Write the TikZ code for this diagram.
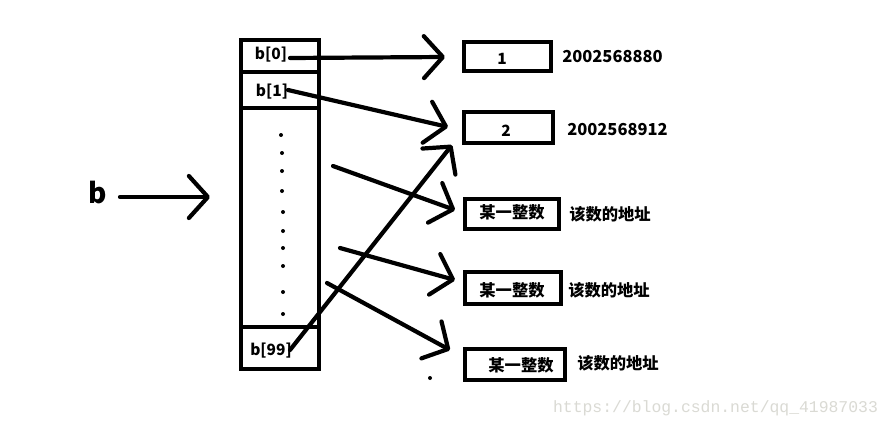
\documentclass[tikz,border=0pt]{standalone}
\usepackage{fontspec}
\setmainfont{Noto Sans CJK SC}
\newfontfamily\wmfont{Liberation Mono}
\usetikzlibrary{arrows.meta}
\definecolor{wmgray}{RGB}{218,218,212}
\tikzset{
  heavy/.style={line width=4.2pt},
  cellbox/.style={draw, line width=4.2pt, inner sep=0pt},
  ptr/.style={line width=4.2pt, line cap=round, -{Straight Barb[length=19pt,width=42pt,round]}},
  txt/.style={inner sep=0pt, font=\bfseries\fontsize{15.5}{16}\selectfont},
  num/.style={inner sep=0pt, font=\bfseries\fontsize{16.5}{17}\selectfont},
  cn/.style={inner sep=0pt, font=\bfseries\fontsize{16.3}{17}\selectfont},
  dotmark/.style={fill=black, circle, inner sep=0pt, minimum size=4pt},
}
\begin{document}
\begin{tikzpicture}[x=1pt,y=-1pt]
\useasboundingbox[fill=white] (0,0) rectangle (890,428);
% array column
\draw[heavy] (241,40) rectangle (319,369);
\draw[heavy] (241,72) -- (319,72);
\draw[heavy] (241,108) -- (319,108);
\draw[heavy] (241,327) -- (319,327);
\node[txt] (b0) at (271,55) {b[0]};
\node[txt] (b1) at (272,92) {b[1]};
\node[txt] (b99) at (271,351) {b[99]};
% dots
\foreach \x/\y [count=\i] in {281/135,282/153,282/171,282/191,283/212,283/231,283/248,283/266,283/292,283/314,430/378}
  \node[dotmark] (d\i) at (\x,\y) {};
% target boxes
\node[cellbox, minimum width=87pt, minimum height=29pt] (box1) at (507.5,56.5) {};
\node[cellbox, minimum width=89pt, minimum height=31pt] (box2) at (508.5,127.5) {};
\node[cellbox, minimum width=94pt, minimum height=30pt] (box3) at (512,214) {};
\node[cellbox, minimum width=96pt, minimum height=32pt] (box4) at (513,288) {};
\node[cellbox, minimum width=100pt, minimum height=31pt] (box5) at (515,364.5) {};
\node[txt] (v1) at (502,59) {1};
\node[txt] (v2) at (506,131) {2};
\node[cn] (v3) at (512,212) {某一整数};
\node[cn] (v4) at (512,290) {某一整数};
\node[cn] (v5) at (521,365) {某一整数};
\node[num] (a1) at (612.5,57) {2002568880};
\node[num] (a2) at (617.5,130) {2002568912};
\node[cn] (a3) at (610,214) {该数的地址};
\node[cn] (a4) at (609,290) {该数的地址};
\node[cn] (a5) at (618,363) {该数的地址};
% b pointer
\node[inner sep=0pt, font=\bfseries\fontsize{28}{30}\selectfont] (b) at (97.5,193) {b};
\coordinate (bs) at (120,197);
\coordinate (bt) at (210,197);
\draw[ptr] (bs) -- (bt);
% pointer arrows
\coordinate (s1) at (290,58);  \coordinate (t1) at (445,57);
\coordinate (s2) at (288,90);  \coordinate (t2) at (448,127);
\coordinate (s3) at (290,350); \coordinate (t3) at (452,145);
\coordinate (s4) at (333,166); \coordinate (t4) at (455,210);
\coordinate (s5) at (340,248); \coordinate (t5) at (455,280);
\coordinate (s6) at (327,283); \coordinate (t6) at (450,350);
\foreach \i in {1,...,6} \draw[ptr] (s\i) -- (t\i);
% watermark
\node[inner sep=0pt, text=wmgray, font=\wmfont\fontsize{16.4}{17}\selectfont] (wm) at (715.5,408) {https://blog.csdn.net/qq\_41987033};
\end{tikzpicture}
\end{document}
